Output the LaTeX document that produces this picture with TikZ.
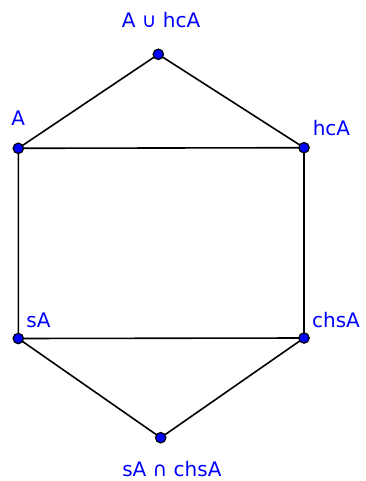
\documentclass[tikz,border=0pt]{standalone}
\usepackage{fontspec}
\setmainfont{DejaVu Sans}
\definecolor{lblue}{RGB}{0,0,255}
\begin{document}
\begin{tikzpicture}[x=0.75pt,y=-0.75pt,
  pt/.style={circle,fill=lblue,draw=black,line width=0.9pt,inner sep=0pt,minimum size=7.8pt},
  lbl/.style={text=lblue,font=\fontsize{15}{18}\selectfont,inner sep=0pt,anchor=base west},
  edge/.style={line width=1.2pt,black}]
\useasboundingbox (0,0) rectangle (365,481);
\coordinate (T) at (158.3,54.3);
\coordinate (A) at (18.3,148.3);
\coordinate (H) at (304,147.7);
\coordinate (S) at (18.3,338.5);
\coordinate (C) at (304,338);
\coordinate (B) at (160.7,437.7);
\draw[edge] (A) -- (T) -- (H) -- (C) -- (B) -- (S) -- (A) -- (H);
\draw[edge] (S) -- (C);
\node[pt] (nT) at (T) {};
\node[pt] (nA) at (A) {};
\node[pt] (nH) at (H) {};
\node[pt] (nS) at (S) {};
\node[pt] (nC) at (C) {};
\node[pt] (nB) at (B) {};
\node[lbl] (lT) at (121.7,28) {A ∪ hcA};
\node[lbl] (lA) at (11.2,125.7) {A};
\node[lbl] (lH) at (312.5,136) {hcA};
\node[lbl] (lS) at (26.2,327.3) {sA};
\node[lbl] (lC) at (311.8,327.7) {chsA};
\node[lbl] (lB) at (122,476.7) {sA ∩ chsA};
\end{tikzpicture}
\end{document}
